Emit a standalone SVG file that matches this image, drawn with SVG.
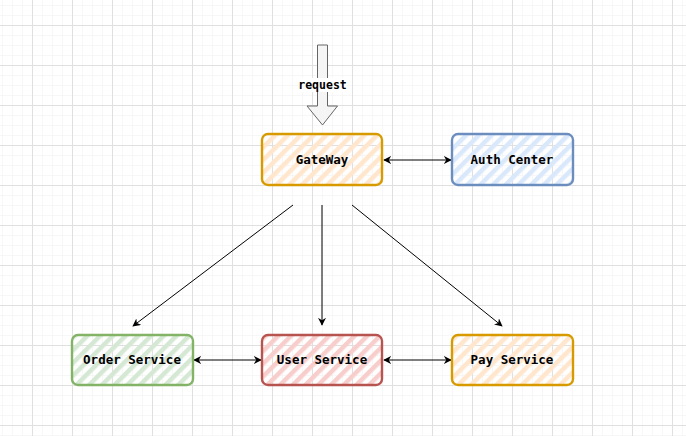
<svg xmlns="http://www.w3.org/2000/svg" width="686" height="436" viewBox="0 0 686 436">
<defs>
<pattern id="minor" width="10" height="10" patternUnits="userSpaceOnUse" x="2" y="5">
<path d="M0 0H10M0 0V10" fill="none" stroke="#f0f0f0" stroke-width="1"/>
</pattern>
<pattern id="major" width="40" height="40" patternUnits="userSpaceOnUse" x="32" y="25">
<path d="M0 0.5H40M0.5 0V40" fill="none" stroke="#e0e0e0" stroke-width="1"/>
</pattern>
<pattern id="hOrange" width="9" height="9" patternUnits="userSpaceOnUse" patternTransform="rotate(45)">
<rect width="4.5" height="9" fill="#ffe6cc"/>
</pattern>
<pattern id="hBlue" width="9" height="9" patternUnits="userSpaceOnUse" patternTransform="rotate(45)">
<rect width="4.5" height="9" fill="#dae8fc"/>
</pattern>
<pattern id="hGreen" width="9" height="9" patternUnits="userSpaceOnUse" patternTransform="rotate(45)">
<rect width="4.5" height="9" fill="#d5e8d4"/>
</pattern>
<pattern id="hRed" width="9" height="9" patternUnits="userSpaceOnUse" patternTransform="rotate(45)">
<rect width="4.5" height="9" fill="#f8cecc"/>
</pattern>
<marker id="arr" viewBox="0 0 10 10" refX="9" refY="5" markerWidth="8" markerHeight="8" orient="auto-start-reverse" markerUnits="userSpaceOnUse">
<path d="M0 0L10 5L0 10L3 5Z" fill="#000"/>
</marker>
<style>
.box{stroke-width:2.4;stroke-linejoin:round}
.lbl{font-family:"DejaVu Sans Mono","Liberation Mono",monospace;font-weight:bold;font-size:12.5px;text-anchor:middle;fill:#000}
.conn{stroke:#000;stroke-width:1;fill:none;marker-end:url(#arr)}
.both{marker-start:url(#arr)}
</style>
</defs>
<rect width="686" height="436" fill="#fff"/>
<rect width="686" height="436" fill="url(#minor)"/>
<rect width="686" height="436" fill="url(#major)"/>

<g id="request">
<path d="M317.5 45H327.5V106H337.5L322.5 125L307 106H317.5Z" fill="#f5f5f5" stroke="#666" stroke-width="1"/>
<rect x="298" y="78" width="49" height="14" fill="#fff"/>
<text class="lbl" x="322.5" y="89" style="font-size:11.5px">request</text>
</g>

<g id="connectors">
<line class="conn both" x1="384" y1="160" x2="451" y2="160"/>
<line class="conn" x1="293" y1="205" x2="133" y2="326"/>
<line class="conn" x1="322" y1="205" x2="322" y2="325"/>
<line class="conn" x1="352" y1="205" x2="502" y2="326"/>
<line class="conn both" x1="194" y1="360" x2="261" y2="360"/>
<line class="conn both" x1="384" y1="360" x2="451" y2="360"/>
</g>

<g id="gateway">
<rect class="box" x="262" y="134" width="120" height="51" rx="6" fill="url(#hOrange)" stroke="#d79b00"/>
<text class="lbl" x="322" y="164">GateWay</text>
</g>
<g id="auth-center">
<rect class="box" x="452" y="134" width="121" height="51" rx="6" fill="url(#hBlue)" stroke="#6c8ebf"/>
<text class="lbl" x="512" y="164">Auth Center</text>
</g>
<g id="order-service">
<rect class="box" x="72" y="335" width="121" height="50" rx="6" fill="url(#hGreen)" stroke="#82b366"/>
<text class="lbl" x="132" y="364">Order Service</text>
</g>
<g id="user-service">
<rect class="box" x="262" y="335" width="120" height="50" rx="6" fill="url(#hRed)" stroke="#b85450"/>
<text class="lbl" x="322" y="364">User Service</text>
</g>
<g id="pay-service">
<rect class="box" x="452" y="335" width="121" height="50" rx="6" fill="url(#hOrange)" stroke="#d79b00"/>
<text class="lbl" x="512" y="364">Pay Service</text>
</g>
</svg>
